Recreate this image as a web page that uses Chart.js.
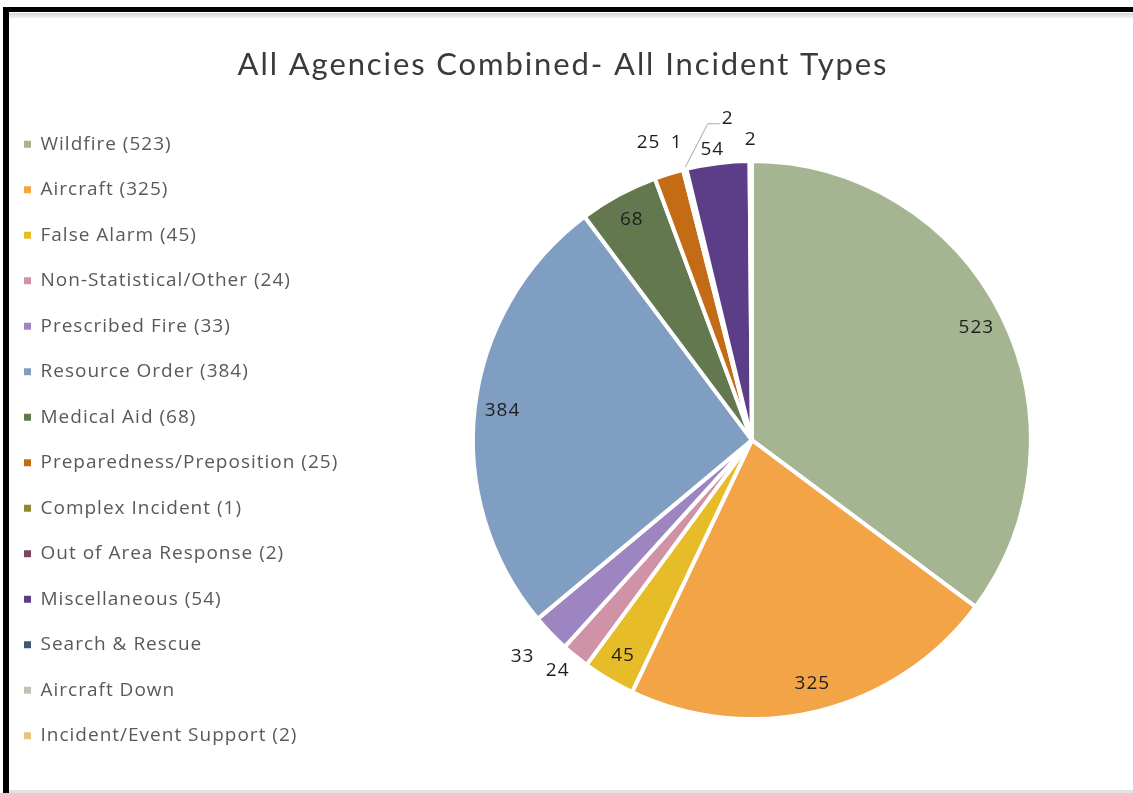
<!DOCTYPE html>
<html>
<head>
<meta charset="utf-8">
<title>All Agencies Combined- All Incident Types</title>
<script src="https://cdn.jsdelivr.net/npm/chart.js@4/dist/chart.umd.min.js"></script>
<style>
  html, body { margin: 0; padding: 0; background: #fff; overflow: hidden; width: 1133px; height: 793px; }
  #frame { position: absolute; left: 3px; top: 7px; width: 1130px; height: 786px; box-sizing: border-box;
           border-top: 5px solid #000; border-left: 6px solid #000; z-index: 2; pointer-events: none; }
  #frame .shade { position: absolute; left: 0; right: 0; top: 1px; height: 5px; background: linear-gradient(#d6d6d6, #f3f3f3); }
  #frame .foot { position: absolute; left: 0; right: 0; bottom: 0; height: 3px; background: #e2e2e2; }
  #chart { position: absolute; left: -10px; top: 18px; }
</style>
</head>
<body>
<div id="frame"><div class="shade"></div><div class="foot"></div></div>
<canvas id="chart" width="1146" height="770"></canvas>

<script>
// incident categories, counts per category (blank = none reported) and slice colours
const categories = [
  "Wildfire", "Aircraft", "False Alarm", "Non-Statistical/Other", "Prescribed Fire",
  "Resource Order", "Medical Aid", "Preparedness/Preposition", "Complex Incident",
  "Out of Area Response", "Miscellaneous", "Search & Rescue", "Aircraft Down",
  "Incident/Event Support"
];
const incidentCounts = [523, 325, 45, 24, 33, 384, 68, 25, 1, 2, 54, null, null, 2];
const sliceColors = [
  "#a5b592", "#f3a447", "#e7bc29", "#d092a7", "#9c85c0",
  "#809ec2", "#64784f", "#c46c15", "#8a8a30",
  "#7c4560", "#5b3e87", "#3f5672", "#c2c3b8",
  "#e6c47c"
];

// legend text carries the count when there is one
const legendText = categories.map((name, i) =>
  incidentCounts[i] ? name + " (" + incidentCounts[i] + ")" : name);

// value labels: inside big slices, outside thin ones, leader line for the crowded one
const sliceLabels = {
  id: "sliceLabels",
  afterDatasetsDraw(chart, args, opts) {
    const ctx = chart.ctx;
    const meta = chart.getDatasetMeta(0);
    ctx.save();
    ctx.font = "19px 'Open Sans'";
    ctx.letterSpacing = opts.spacing;
    ctx.fillStyle = "#1e1e1e";
    ctx.textAlign = "center";
    ctx.textBaseline = "middle";
    meta.data.forEach((arc, i) => {
      const v = incidentCounts[i];
      if (!v) return;
      const p = arc.getProps(["x", "y", "startAngle", "endAngle", "outerRadius"], true);
      const mid = (p.startAngle + p.endAngle) / 2;
      const nudge = opts.nudge[i] || [0, 0];
      if (opts.leader[i]) {
        const ld = opts.leader[i];
        const ex = p.x + Math.cos(mid) * p.outerRadius;
        const ey = p.y + Math.sin(mid) * p.outerRadius;
        const a = ld.angle * Math.PI / 180 - Math.PI / 2;
        const lx = p.x + Math.cos(a) * p.outerRadius * ld.radius;
        const ly = p.y + Math.sin(a) * p.outerRadius * ld.radius;
        ctx.strokeStyle = "#a6a6a6";
        ctx.lineWidth = 1;
        ctx.beginPath();
        ctx.moveTo(ex, ey - 2);
        ctx.lineTo(lx - 20, ly + 5);
        ctx.lineTo(lx - 8, ly + 5);
        ctx.stroke();
        ctx.fillText(String(v), lx, ly);
        return;
      }
      const k = opts.outsideOf.includes(i) ? opts.outside : opts.inside;
      const x = p.x + Math.cos(mid) * p.outerRadius * k + nudge[0];
      const y = p.y + Math.sin(mid) * p.outerRadius * k + nudge[1];
      ctx.fillText(String(v), x, y);
    });
    ctx.restore();
  }
};

// a little tracking on title and legend text, plus a wider legend column
const textTweaks = {
  id: "textTweaks",
  beforeInit(chart, args, opts) {
    const spaced = (box, name, spacing) => {
      const orig = box[name];
      box[name] = function () {
        const prev = this.ctx.letterSpacing;
        this.ctx.letterSpacing = spacing;
        const out = orig.apply(this, arguments);
        this.ctx.letterSpacing = prev;
        return out;
      };
    };
    if (chart.titleBlock) spaced(chart.titleBlock, "draw", opts.titleSpacing);
    if (chart.legend) {
      spaced(chart.legend, "fit", opts.legendSpacing);
      spaced(chart.legend, "draw", opts.legendSpacing);
      const fit = chart.legend.fit;
      chart.legend.fit = function () {
        fit.call(this);
        this.width += opts.legendGutter;
      };
    }
  }
};

new Chart(document.getElementById("chart"), {
  type: "pie",
  data: {
    labels: legendText,
    datasets: [{
      data: incidentCounts,
      backgroundColor: sliceColors,
      borderColor: "#ffffff",
      borderWidth: 4
    }]
  },
  plugins: [sliceLabels, textTweaks],
  options: {
    responsive: false,
    animation: false,
    radius: 279,
    layout: { padding: { left: 7.5, right: 7.5, top: 0, bottom: 0 } },
    plugins: {
      title: {
        display: true,
        text: "All Agencies Combined- All Incident Types",
        color: "#3a3a3a",
        font: { family: "Lato", size: 31, weight: "normal" },
        padding: { top: 28, bottom: 9 }
      },
      legend: {
        position: "left",
        fullSize: false,
        labels: {
          color: "#595959",
          font: { family: "'Open Sans'", size: 19 },
          boxWidth: 7,
          boxHeight: 7,
          padding: 26.5,
          generateLabels(chart) {
            const items = Chart.overrides.doughnut.plugins.legend.labels.generateLabels(chart);
            items.forEach(it => { it.lineWidth = 0; it.strokeStyle = "rgba(0,0,0,0)"; });
            return items;
          }
        }
      },
      tooltip: { enabled: false },
      sliceLabels: {
        spacing: "1px",
        inside: 0.9,
        outside: 1.1,
        outsideOf: [3, 4, 7, 8, 10, 13],
        nudge: { 4: [-8, 4], 3: [0, -7], 7: [-12, -5], 10: [-2, 14], 13: [0, 6] },
        leader: { 9: { angle: 355.7, radius: 1.155 } }
      },
      textTweaks: { titleSpacing: "1.9px", legendSpacing: "1px", legendGutter: 27 }
    }
  }
});
</script>
</body>
</html>
